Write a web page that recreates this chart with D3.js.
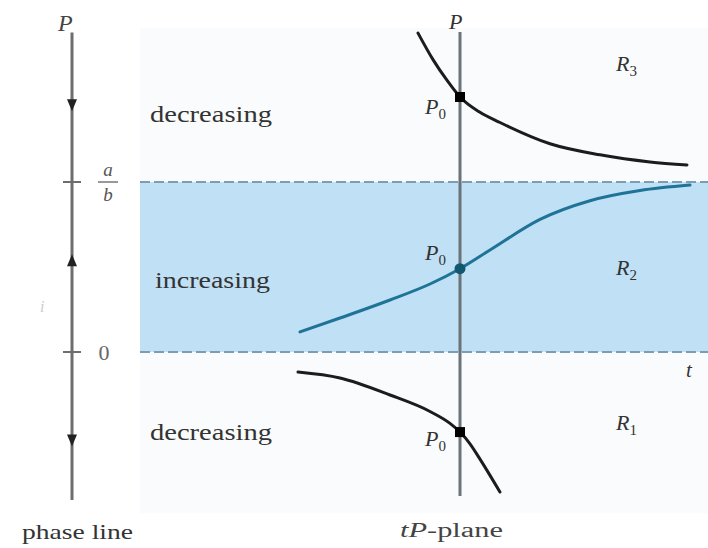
<!DOCTYPE html>
<html><head><meta charset="utf-8">
<script src="https://cdn.jsdelivr.net/npm/d3@7"></script>
<style>body{margin:0;background:#fff}svg{display:block}
text{font-family:"Liberation Serif","Times New Roman",Tinos,Times,"Nimbus Roman",serif}</style>
</head><body>
<svg id="c" width="708" height="548"></svg>
<script>
// Data (t, P); P in units of a/b
const r3T = [-0.42, -0.27, -0.12, 0, 0.20, 0.40, 0.90, 1.40, 1.90, 2.27];
const r3P = [1.876, 1.72, 1.59, 1.50, 1.41, 1.35, 1.225, 1.16, 1.118, 1.100];
const r2T = [-1.60, -1.20, -0.70, -0.30, 0, 0.30, 0.80, 1.30, 1.80, 2.30];
const r2P = [0.118, 0.200, 0.306, 0.400, 0.490, 0.600, 0.780, 0.890, 0.950, 0.982];
const r1T = [-1.62, -1.20, -0.70, -0.30, -0.10, 0, 0.10, 0.20, 0.40];
const r1P = [-0.118, -0.153, -0.253, -0.350, -0.420, -0.471, -0.540, -0.630, -0.824];
const equilibria = [0, 1];
const equilibriumLabels = ["0", "a/b"];
const regionLabels = ["R1", "R2", "R3"];
const behaviour = ["decreasing", "increasing", "decreasing"];
const arrowP = [-0.52, 0.54, 1.452];
const arrowDir = [1, -1, 1]; // 1 = down
const p0Values = [r1P[5], r2P[4], r3P[3]];

const svg = d3.select("#c");
const x = d3.scaleLinear().domain([-3.2, 2.48]).range([140, 708]);
const y = d3.scaleLinear().domain([0, 1]).range([352, 182]);

// faint scanned background
svg.append("rect").attr("x", 140).attr("y", 28).attr("width", 568).attr("height", 485).attr("fill", "#fafbfc");

// shaded band
svg.append("rect").attr("x", x(-3.2)).attr("y", y(1)).attr("width", x(2.48) - x(-3.2))
  .attr("height", y(0) - y(1)).attr("fill", "#bfe0f5");
svg.selectAll("line.eq").data(equilibria).join("line").attr("class", "eq")
  .attr("x1", x(-3.2)).attr("x2", x(2.48)).attr("y1", d => y(d)).attr("y2", d => y(d))
  .attr("stroke", "#7c9db3").attr("stroke-width", 2).attr("stroke-dasharray", "10,4");

// phase line
const px = 72;
svg.append("line").attr("x1", px).attr("x2", px).attr("y1", y(1.88)).attr("y2", y(-0.87))
  .attr("stroke", "#6e6e6e").attr("stroke-width", 3);
svg.selectAll("line.tk").data(equilibria).join("line").attr("class", "tk")
  .attr("x1", px - 9).attr("x2", px + 9).attr("y1", d => y(d)).attr("y2", d => y(d))
  .attr("stroke", "#6e6e6e").attr("stroke-width", 2);
svg.selectAll("path.arr").data(arrowP).join("path").attr("class", "arr")
  .attr("d", (d, i) => {
    const cy = y(d), s = arrowDir[i];
    return `M${px - 5},${cy - 6 * s}L${px + 5},${cy - 6 * s}L${px},${cy + 6 * s}Z`;
  }).attr("fill", "#222");
// phase line labels
svg.append("text").attr("x", 58).attr("y", 31).attr("font-style", "italic")
  .attr("font-size", 24).attr("fill", "#444").text("P");
svg.append("text").attr("x", 108).attr("y", 176).attr("text-anchor", "middle")
  .attr("font-style", "italic").attr("font-size", 19).attr("fill", "#555").text("a");
svg.append("line").attr("x1", 98).attr("x2", 118).attr("y1", y(1)).attr("y2", y(1)).attr("stroke", "#777").attr("stroke-width", 1.5);
svg.append("text").attr("x", 108).attr("y", 201).attr("text-anchor", "middle")
  .attr("font-style", "italic").attr("font-size", 19).attr("fill", "#555").text("b");
svg.append("text").attr("x", 104).attr("y", y(0) + 8).attr("text-anchor", "middle")
  .attr("font-size", 22).attr("fill", "#666").text(equilibriumLabels[0]);
svg.append("text").attr("x", 40).attr("y", 312).attr("font-style", "italic")
  .attr("font-size", 16).attr("fill", "#ccc").text("i");
svg.append("text").attr("x", 22).attr("y", 539).attr("font-size", 21)
  .attr("textLength", 111).attr("lengthAdjust", "spacingAndGlyphs").attr("fill", "#333").text("phase line");

// behaviour labels
const behY = [440, 288, 122];
const behX = [150, 155, 150];
const behW = [122, 115, 122];
behaviour.forEach((b, i) => {
  svg.append("text").attr("x", behX[i]).attr("y", behY[i])
    .attr("font-size", 24).attr("textLength", behW[i]).attr("lengthAdjust", "spacingAndGlyphs")
    .attr("fill", "#333").text(b);
});

// tP vertical axis
svg.append("line").attr("x1", x(0)).attr("x2", x(0)).attr("y1", y(1.882)).attr("y2", y(-0.847))
  .attr("stroke", "#6a7378").attr("stroke-width", 3);
svg.append("text").attr("x", x(0) - 11).attr("y", 29).attr("font-style", "italic")
  .attr("font-size", 22).attr("fill", "#333").text("P");
svg.append("text").attr("x", 686).attr("y", 377).attr("font-style", "italic")
  .attr("font-size", 21).attr("fill", "#333").text("t");
svg.append("text").attr("x", 400).attr("y", 537).attr("font-size", 20)
  .attr("textLength", 103).attr("lengthAdjust", "spacingAndGlyphs").attr("fill", "#444")
  .html("<tspan font-style='italic'>tP</tspan>-plane");

// solution curves
const line = d3.line().x(d => x(d[0])).y(d => y(d[1])).curve(d3.curveMonotoneX);
const curves = [
  {t: r1T, p: r1P, c: "#1c1c1c"},
  {t: r2T, p: r2P, c: "#1f7397"},
  {t: r3T, p: r3P, c: "#1c1c1c"}
];
curves.forEach(cv => {
  svg.append("path").datum(cv.t.map((t, i) => [t, cv.p[i]])).attr("d", line)
    .attr("fill", "none").attr("stroke", cv.c).attr("stroke-width", 3).attr("stroke-linecap", "round");
});
// P0 markers
svg.append("rect").attr("x", x(0) - 5).attr("y", y(p0Values[0]) - 5).attr("width", 10).attr("height", 10).attr("fill", "#000");
svg.append("circle").attr("cx", x(0)).attr("cy", y(p0Values[1])).attr("r", 5.5).attr("fill", "#11586f");
svg.append("rect").attr("x", x(0) - 5).attr("y", y(p0Values[2]) - 5).attr("width", 10).attr("height", 10).attr("fill", "#000");
const p0LabelY = [446, 260, 114];
p0LabelY.forEach(py => {
  svg.append("text").attr("x", 425).attr("y", py).attr("font-style", "italic")
    .attr("font-size", 22).attr("fill", "#333")
    .html("P<tspan font-size='15' font-style='normal' dy='5'>0</tspan>");
});
// region labels
const regLabelY = [430, 275, 71];
regionLabels.forEach((r, i) => {
  svg.append("text").attr("x", 616).attr("y", regLabelY[i]).attr("font-style", "italic")
    .attr("font-size", 22).attr("fill", "#333")
    .html(`R<tspan font-size='15' font-style='normal' dy='5'>${r.slice(1)}</tspan>`);
});
</script>
</body></html>
